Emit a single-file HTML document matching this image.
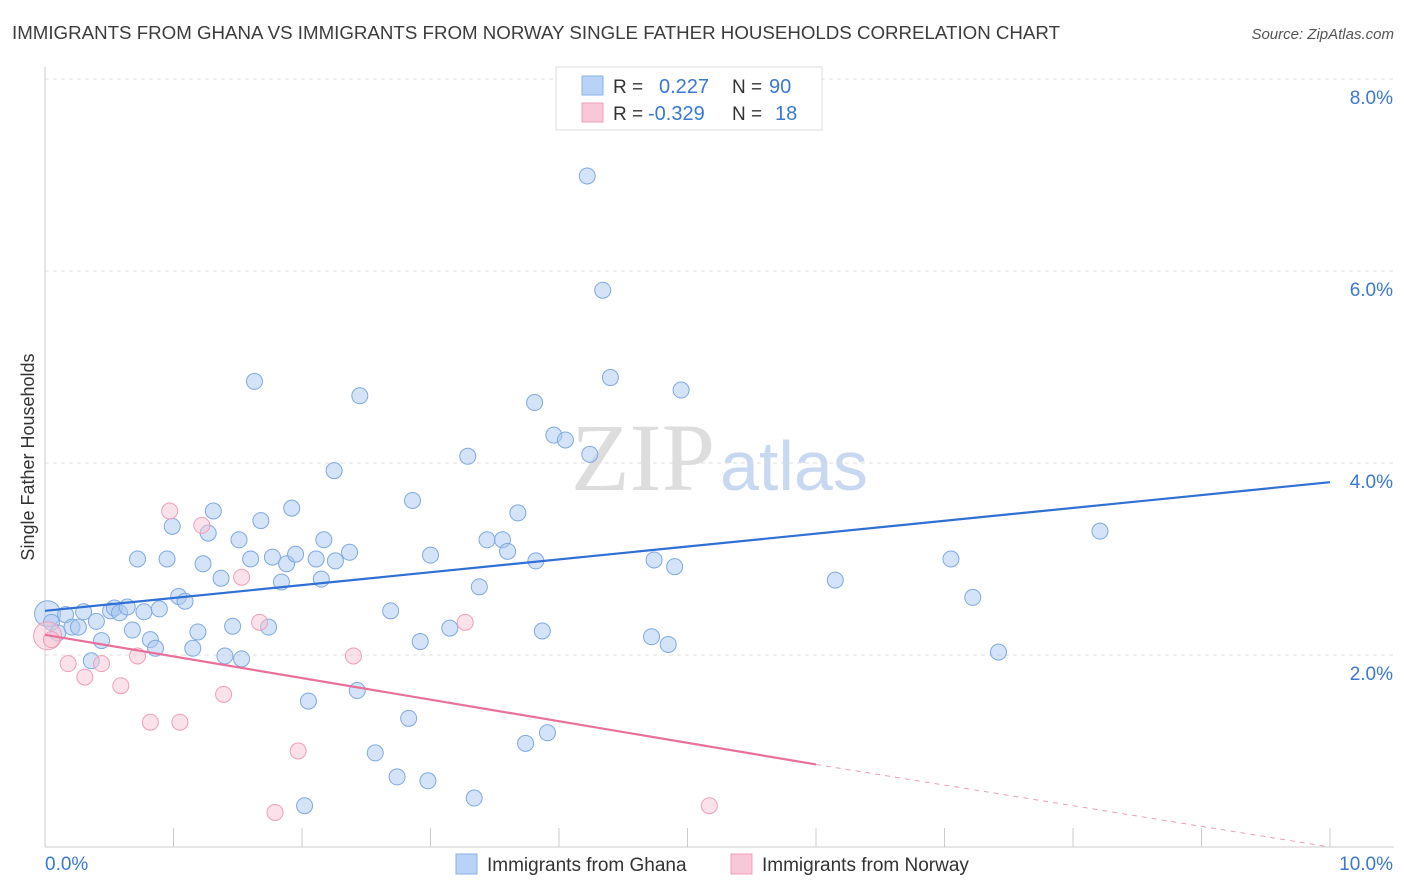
<!DOCTYPE html>
<html><head><meta charset="utf-8"><style>
body{margin:0;background:#fff;font-family:"Liberation Sans",sans-serif;}
svg{display:block}
</style></head><body>
<svg id="chart" width="1406" height="892" xmlns="http://www.w3.org/2000/svg">
<text x="12" y="39" font-size="18" fill="#3c3c3c" textLength="1048" lengthAdjust="spacingAndGlyphs">IMMIGRANTS FROM GHANA VS IMMIGRANTS FROM NORWAY SINGLE FATHER HOUSEHOLDS CORRELATION CHART</text>
<text x="1394" y="39" font-size="15" fill="#555" text-anchor="end" font-style="italic">Source: ZipAtlas.com</text>
<g>
<text x="715" y="490" font-size="96" font-family="Liberation Serif,serif" fill="#ddd" text-anchor="end">ZIP</text>
<text x="720" y="490" font-size="70" fill="#c8d8f0">atlas</text>
</g>
<g id="grid"></g>
<line x1="45" y1="67" x2="45" y2="847" stroke="#ccc"/>
<line x1="45" y1="847" x2="1394" y2="847" stroke="#ccc"/>
<text transform="translate(34,457) rotate(-90)" font-size="18" fill="#333" text-anchor="middle">Single Father Households</text>
<g id="ticks"></g>
<g id="pts"></g>
<g id="lines"></g>
<g>
<rect x="556" y="67" width="266" height="63" fill="#fff" stroke="#ddd"/>
<rect x="582" y="76" width="21" height="19" fill="#b8d3f5" stroke="#8ab2e8"/>
<rect x="582" y="103" width="21" height="19" fill="#f8c8d8" stroke="#eea0b8"/>
<text x="613" y="93" font-size="19" fill="#333">R =</text>
<text x="659" y="93" font-size="20" fill="#3a78d4">0.227</text>
<text x="732" y="93" font-size="19" fill="#333">N =</text>
<text x="769" y="93" font-size="20" fill="#3a78d4">90</text>
<text x="613" y="120" font-size="19" fill="#333">R =</text>
<text x="648" y="120" font-size="20" fill="#3a78d4">-0.329</text>
<text x="732" y="120" font-size="19" fill="#333">N =</text>
<text x="775" y="120" font-size="20" fill="#3a78d4">18</text>
</g>
<g>
<rect x="456" y="854" width="21" height="20" fill="#b8d3f5" stroke="#8ab2e8"/>
<text x="487" y="871" font-size="19" fill="#333">Immigrants from Ghana</text>
<rect x="731" y="854" width="21" height="20" fill="#f8c8d8" stroke="#eea0b8"/>
<text x="762" y="871" font-size="19" fill="#333">Immigrants from Norway</text>
</g>
</svg>
<script>
const yTicks=[2,4,6,8];
const xTickLabels=["0.0%","10.0%"];
const ghanaX=[0.02,0.05,0.1,0.16,0.21,0.26,0.3,0.36,0.4,0.44,0.51,0.54,0.58,0.64,0.68,0.72,0.77,0.82,0.86,0.89,0.95,0.99,1.04,1.09,1.15,1.19,1.23,1.27,1.31,1.37,1.4,1.46,1.51,1.53,1.6,1.63,1.68,1.74,1.77,1.84,1.88,1.92,1.95,2.05,2.02,2.11,2.15,2.17,2.26,2.25,2.37,2.43,2.45,2.57,2.69,2.74,2.83,2.86,2.92,2.98,3.0,3.15,3.29,3.34,3.38,3.44,3.56,3.6,3.68,3.74,3.81,3.82,3.87,3.91,3.96,4.05,4.22,4.24,4.34,4.4,4.72,4.74,4.85,4.9,4.95,6.15,7.05,7.22,7.42,8.21];
const ghanaY=[2.43,2.34,2.23,2.42,2.29,2.29,2.45,1.94,2.35,2.15,2.46,2.49,2.44,2.5,2.26,3.0,2.45,2.16,2.07,2.48,3.0,3.34,2.61,2.56,2.07,2.24,2.95,3.27,3.5,2.8,1.99,2.3,3.2,1.96,3.0,4.85,3.4,2.29,3.02,2.76,2.95,3.53,3.05,1.52,0.43,3.0,2.79,3.2,2.98,3.92,3.07,1.63,4.7,0.98,2.46,0.73,1.34,3.61,2.14,0.69,3.04,2.28,4.07,0.51,2.71,3.2,3.2,3.08,3.48,1.08,4.63,2.98,2.25,1.19,4.29,4.24,6.99,4.09,5.8,4.89,2.19,2.99,2.11,2.92,4.76,2.78,3.0,2.6,2.03,3.29];
const norwayX=[0.02,0.05,0.18,0.31,0.44,0.59,0.72,0.82,0.97,1.05,1.22,1.39,1.53,1.67,1.97,1.79,2.4,3.27,5.17];
const norwayY=[2.2,2.16,1.91,1.77,1.91,1.68,1.99,1.3,3.5,1.3,3.35,1.59,2.81,2.34,1.0,0.36,1.99,2.34,0.43];
const X0=45,XS=128.5,Y0=847,YS=96;
const sx=v=>X0+v*XS, sy=v=>Y0-v*YS;
const NS="http://www.w3.org/2000/svg";
function mk(tag,attrs,parent){const e=document.createElementNS(NS,tag);for(const k in attrs)e.setAttribute(k,attrs[k]);parent.appendChild(e);return e;}
const grid=document.getElementById('grid'),ticks=document.getElementById('ticks');
yTicks.forEach(t=>{
 const l=mk('line',{x1:45,x2:1394,y1:sy(t),y2:sy(t),stroke:'#ddd','stroke-dasharray':'4,4'},grid);
 
 
 const tx=mk('text',{x:1393,y:sy(t)+25,'font-size':19,fill:'#3a78d4','text-anchor':'end'},ticks);
 tx.textContent=t.toFixed(1)+'%';
 
 
});
for(let i=0;i<=10;i++){
 const l=mk('line',{x1:sx(i),x2:sx(i),y1:828,y2:847,stroke:'#ccc'},ticks);
 
 
}
[[0,45,'start'],[1,1393,'end']].forEach(([i,x,a])=>{
 const t=mk('text',{x:x,y:870,'font-size':19,fill:'#3a78d4','text-anchor':a},ticks);
 t.textContent=xTickLabels[i];
 
 
});
const pts=document.getElementById('pts');
ghanaX.forEach((x,i)=>{
 const c=mk('circle',{cx:sx(x),cy:sy(ghanaY[i]),r:i==0?13:8,fill:'rgba(170,200,240,0.5)',stroke:'#7fa9e0','stroke-width':1},pts);
 
 
});
norwayX.forEach((x,i)=>{
 const c=mk('circle',{cx:sx(x),cy:sy(norwayY[i]),r:i==0?14:8,fill:'rgba(248,195,212,0.5)',stroke:'#ef9fb9','stroke-width':1},pts);
 
 
});
const lines=document.getElementById('lines');
const bl=mk('line',{x1:sx(0),y1:sy(2.46),x2:sx(10),y2:sy(3.8),stroke:'#2f6fd6','stroke-width':2.2},lines);


const pl=mk('line',{x1:sx(0),y1:sy(2.21),x2:sx(6),y2:sy(0.86),stroke:'#e8709a','stroke-width':2.2},lines);


const pd=mk('line',{x1:sx(6),y1:sy(0.86),x2:sx(10),y2:sy(0),stroke:'#e8a0b8','stroke-width':1,'stroke-dasharray':'5,5'},lines);


</script>
</body></html>
